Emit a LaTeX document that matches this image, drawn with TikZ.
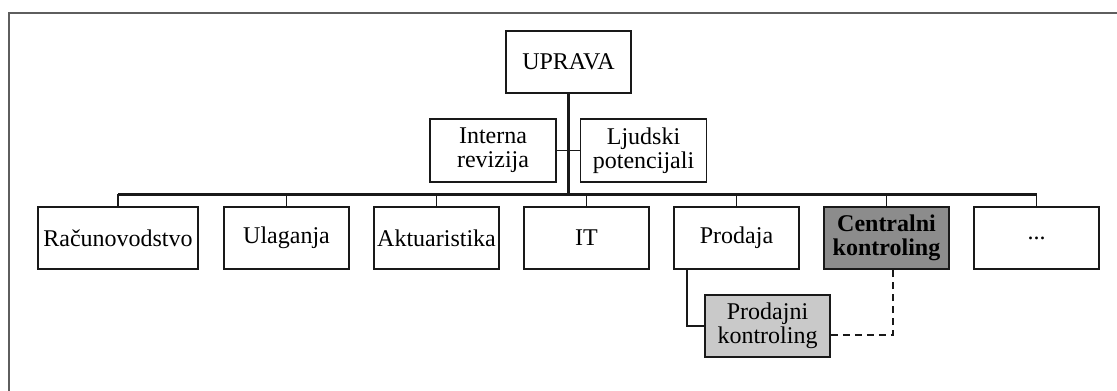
\documentclass[tikz,border=0pt]{standalone}
\usepackage{fontspec}
\setmainfont{Liberation Serif}
\usetikzlibrary{calc}
\definecolor{darkbox}{HTML}{8C8C8C}
\definecolor{lightbox}{HTML}{C9C9C9}
\definecolor{framegray}{HTML}{5E5E5E}

\begin{document}
\begin{tikzpicture}[x=1pt, y=-1pt,
		unit/.style={draw=black!90, line width=1.8pt, align=center, inner sep=2pt,
			minimum width=125pt, minimum height=62pt,
			font=\fontsize{24}{24}\selectfont},
		link/.style={line width=1.7pt, black!90},
		spine/.style={line width=3pt, black!90}]
				\useasboundingbox (0,0) rectangle (1117,391);
				\draw[framegray, line width=2pt] (1117,12.5) -- (8.5,12.5) -- (8.5,391);
				
				\node[unit] (uprava) at (568.5,62) {UPRAVA};
				\node[unit, minimum width=126pt, minimum height=63pt] (interna) at (493,150.5) {Interna\\revizija};
				\node[unit, minimum width=126pt, minimum height=63pt] (ljudski) at (643.5,150.5) {Ljudski\\potencijali};
				
				\node[unit, minimum width=160pt] (racunovodstvo) at (118,238) {Računovodstvo};
				\node[unit] (ulaganja) at (286.5,238) {Ulaganja};
				\node[unit] (aktuaristika) at (436.5,238) {Aktuaristika};
				\node[unit] (it) at (586.5,238) {IT};
				\node[unit] (prodaja) at (736.5,238) {Prodaja};
				\node[unit, fill=darkbox, font=\fontsize{24}{24}\selectfont\bfseries] (centralni) at (886.5,238) {Centralni\\kontroling};
				\node[unit] (ostalo) at (1036.5,238) {...};
				
				\node[unit, fill=lightbox] (prodajni) at (767.5,326) {Prodajni\\kontroling};
				
				\coordinate (bus) at (568.5,194);
				\draw[spine] (uprava.south) -- (bus);
				\draw[link] (interna.east) -- (ljudski.west);
				\draw[spine] (racunovodstvo.north |- bus) -- (ostalo.north |- bus);
				\foreach \n in {racunovodstvo,ulaganja,aktuaristika,it,prodaja,centralni,ostalo}
					\draw[link] (\n.north) -- (\n.north |- bus);
				
				\draw[link] ([xshift=-49.5pt]prodaja.south) |- (prodajni.west);
				\draw[link, dash pattern=on 7pt off 5pt] ([yshift=-9pt]prodajni.east) -| ([xshift=6.5pt]centralni.south);
			\end{tikzpicture}
\end{document}
